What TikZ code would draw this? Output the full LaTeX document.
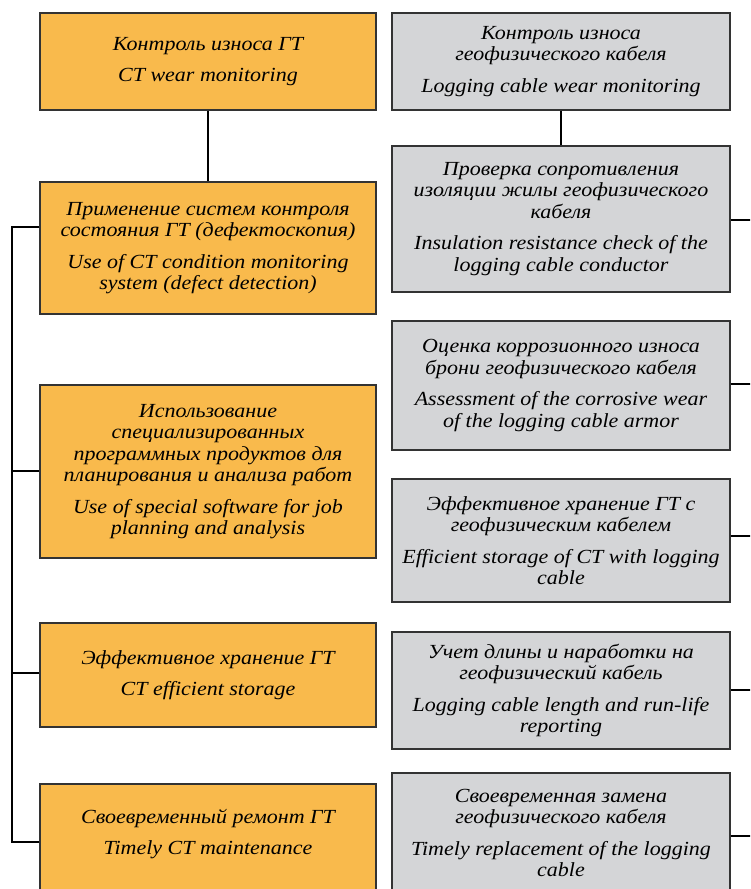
\documentclass[tikz,border=0pt]{standalone}
\usepackage{fontspec}
\setmainfont{Liberation Serif}[ItalicFeatures={FakeStretch=1.1}]
\definecolor{orangebox}{HTML}{F9BA4C}
\definecolor{graybox}{HTML}{D4D5D7}
\definecolor{edge}{HTML}{333333}
\tikzset{
  box/.style={draw=edge, line width=1.3pt, minimum height=#1, inner sep=0pt, align=center, font=\fontsize{20}{21.5}\selectfont\itshape},
  lbox/.style={box=#1, fill=orangebox, minimum width=336pt},
  rbox/.style={box=#1, fill=graybox, minimum width=338pt},
  txt/.style={inner sep=0pt, align=center, font=\fontsize{20}{21.5}\selectfont\itshape},
  link/.style={line width=2.8pt, black}
}
\newcommand{\pgap}{\\[10pt]}
\begin{document}
\begin{tikzpicture}[x=1pt,y=-1pt]
\useasboundingbox (0,0) rectangle (750,889);
\clip (0,0) rectangle (750,889);
% left column
\node[lbox=97pt] (L1) at (208,61.5) {Контроль износа ГТ\pgap CT wear monitoring};
\node[lbox=132pt] (L2) at (208,248) {Применение систем контроля\\состояния ГТ (дефектоскопия)\pgap Use of CT condition monitoring\\system (defect detection)};
\node[lbox=173pt] (L3) at (208,471.5) {Использование\\специализированных\\программных продуктов для\\планирования и анализа работ\pgap Use of special software for job\\planning and analysis};
\node[lbox=104pt] (L4) at (208,675) {Эффективное хранение ГТ\pgap CT efficient storage};
\node[lbox=130pt] (L5) at (208,849) {};
\node[txt] (L5t) at (208,834) {Своевременный ремонт ГТ\pgap Timely CT maintenance};
% right column
\node[rbox=97pt] (R1) at (561,61.5) {Контроль износа\\геофизического кабеля\pgap Logging cable wear monitoring};
\node[rbox=146pt] (R2) at (561,219) {Проверка сопротивления\\изоляции жилы геофизического\\кабеля\pgap Insulation resistance check of the\\logging cable conductor};
\node[rbox=129pt] (R3) at (561,385.5) {Оценка коррозионного износа\\брони геофизического кабеля\pgap Assessment of the corrosive wear\\of the logging cable armor};
\node[rbox=123pt] (R4) at (561,540.5) {Эффективное хранение ГТ с\\геофизическим кабелем\pgap Efficient storage of CT with logging\\cable};
\node[rbox=117pt] (R5) at (561,690.5) {Учет длины и наработки на\\геофизический кабель\pgap Logging cable length and run-life\\reporting};
\node[rbox=140pt] (R6) at (561,843) {};
\node[txt] (R6t) at (561,833) {Своевременная замена\\геофизического кабеля\pgap Timely replacement of the logging\\cable};
% connectors
\draw[link] (L1.south) -- (L2.north);
\draw[link] (R1.south) -- (R2.north);
\coordinate (b2) at (12,227);
\coordinate (b3) at (12,471);
\coordinate (b4) at (12,673);
\coordinate (b5) at (12,842);
\draw[link, line cap=rect] (b2) -- (b5);
\draw[link] (L2.west |- b2) -- (b2);
\draw[link] (L3.west |- b3) -- (b3);
\draw[link] (L4.west |- b4) -- (b4);
\draw[link] (L5.west |- b5) -- (b5);
\coordinate (e2) at (751,220);
\coordinate (e3) at (751,384);
\coordinate (e4) at (751,536);
\coordinate (e5) at (751,690);
\coordinate (e6) at (751,836);
\draw[link] (R2.east |- e2) -- (e2);
\draw[link] (R3.east |- e3) -- (e3);
\draw[link] (R4.east |- e4) -- (e4);
\draw[link] (R5.east |- e5) -- (e5);
\draw[link] (R6.east |- e6) -- (e6);
\end{tikzpicture}
\end{document}
